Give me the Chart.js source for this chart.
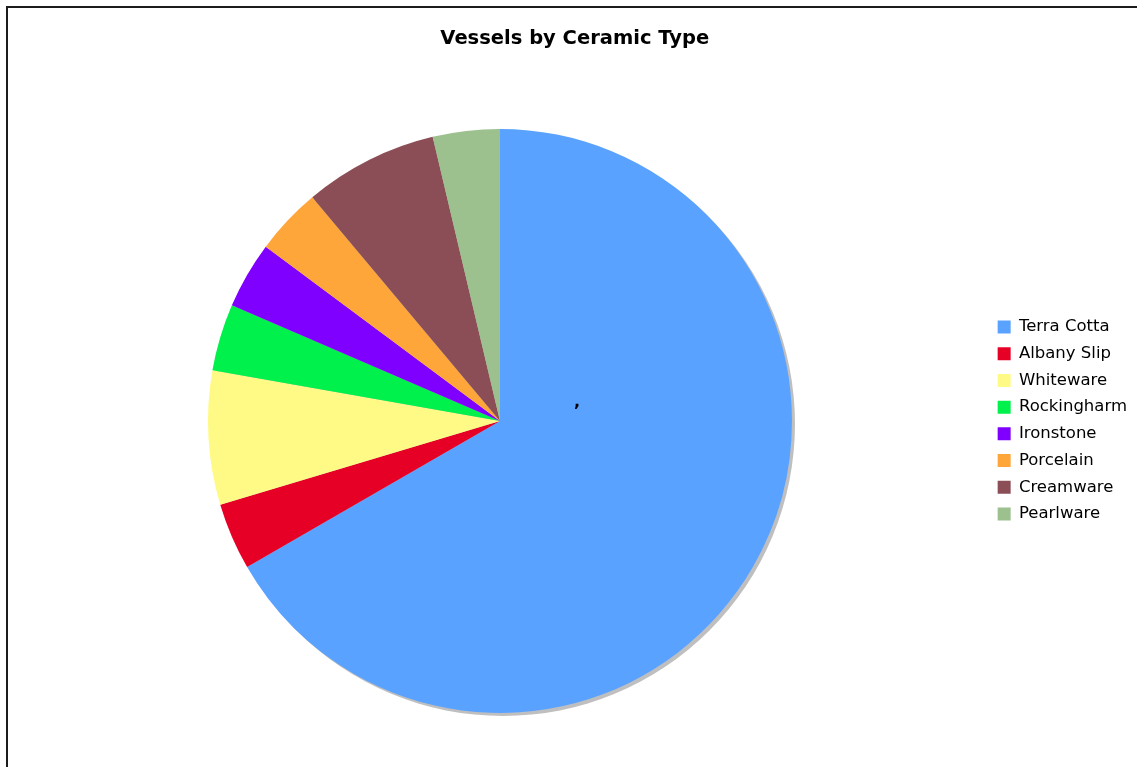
<!DOCTYPE html>
<html>
<head>
<meta charset="utf-8">
<title>Vessels by Ceramic Type</title>
<script src="https://cdn.jsdelivr.net/npm/chart.js@4.4.1/dist/chart.umd.min.js"></script>
<style>
    html, body { margin: 0; padding: 0; background: #fff; overflow: hidden; }
    #frame {
        position: absolute; left: 6px; top: 6px;
        width: 2000px; height: 2000px;
        border: 2px solid #1c1c1c;
    }
    #chart { position: absolute; left: 0; top: 0; }
</style>
</head>
<body>
<div id="frame"></div>
<canvas id="chart" width="1137" height="767"></canvas>
<script>
// Data
const ceramicTypes = ['Terra Cotta', 'Albany Slip', 'Whiteware', 'Rockingharm', 'Ironstone', 'Porcelain', 'Creamware', 'Pearlware'];
const vesselCounts = [18, 1, 2, 1, 1, 1, 2, 1];
const sliceColors = ['#5aa2ff', '#e60026', '#fffa85', '#00f04c', '#8000ff', '#ffa63a', '#8c4e56', '#9cc08e'];

// Grey drop shadow under the whole pie
const pieShadow = {
    id: 'pieShadow',
    beforeDatasetsDraw(chart) {
        const arc = chart.getDatasetMeta(0).data[0];
        if (!arc) return;
        const ctx = chart.ctx;
        ctx.save();
        ctx.fillStyle = '#bfbfbf';
        ctx.beginPath();
        ctx.arc(arc.x + 3, arc.y + 3, arc.outerRadius, 0, Math.PI * 2);
        ctx.fill();
        ctx.restore();
    },
    afterDatasetsDraw(chart) {
        // small stray mark seen near the centre of the original
        const arc = chart.getDatasetMeta(0).data[0];
        if (!arc) return;
        const ctx = chart.ctx;
        ctx.save();
        ctx.fillStyle = '#000';
        ctx.font = 'bold 16px "DejaVu Sans"';
        ctx.textAlign = 'center';
        ctx.textBaseline = 'middle';
        ctx.fillText(',', arc.x + 77, arc.y - 18);
        ctx.restore();
    }
};

document.addEventListener('DOMContentLoaded', () => {
    new Chart(document.getElementById('chart'), {
        type: 'pie',
        data: {
            labels: ceramicTypes,
            datasets: [{
                data: vesselCounts,
                backgroundColor: sliceColors,
                borderWidth: 0
            }]
        },
        options: {
            responsive: false,
            animation: false,
            layout: {
                padding: { left: 12.5, right: 0, top: 128, bottom: 54 }
            },
            plugins: {
                title: {
                    display: true,
                    text: 'Vessels by Ceramic Type',
                    color: '#000',
                    font: { family: '"DejaVu Sans"', size: 19.5, weight: 'bold', lineHeight: 1.2 },
                    // pulled up above the padded layout box
                    padding: { top: -100.7, bottom: 78.3 }
                },
                legend: {
                    position: 'right',
                    align: 'center',
                    labels: {
                        color: '#000',
                        boxWidth: 13,
                        boxHeight: 13,
                        padding: 10.2,
                        font: { family: '"DejaVu Sans"', size: 16.5 }
                    }
                },
                tooltip: { enabled: false }
            }
        },
        plugins: [pieShadow]
    });
});
</script>
</body>
</html>
